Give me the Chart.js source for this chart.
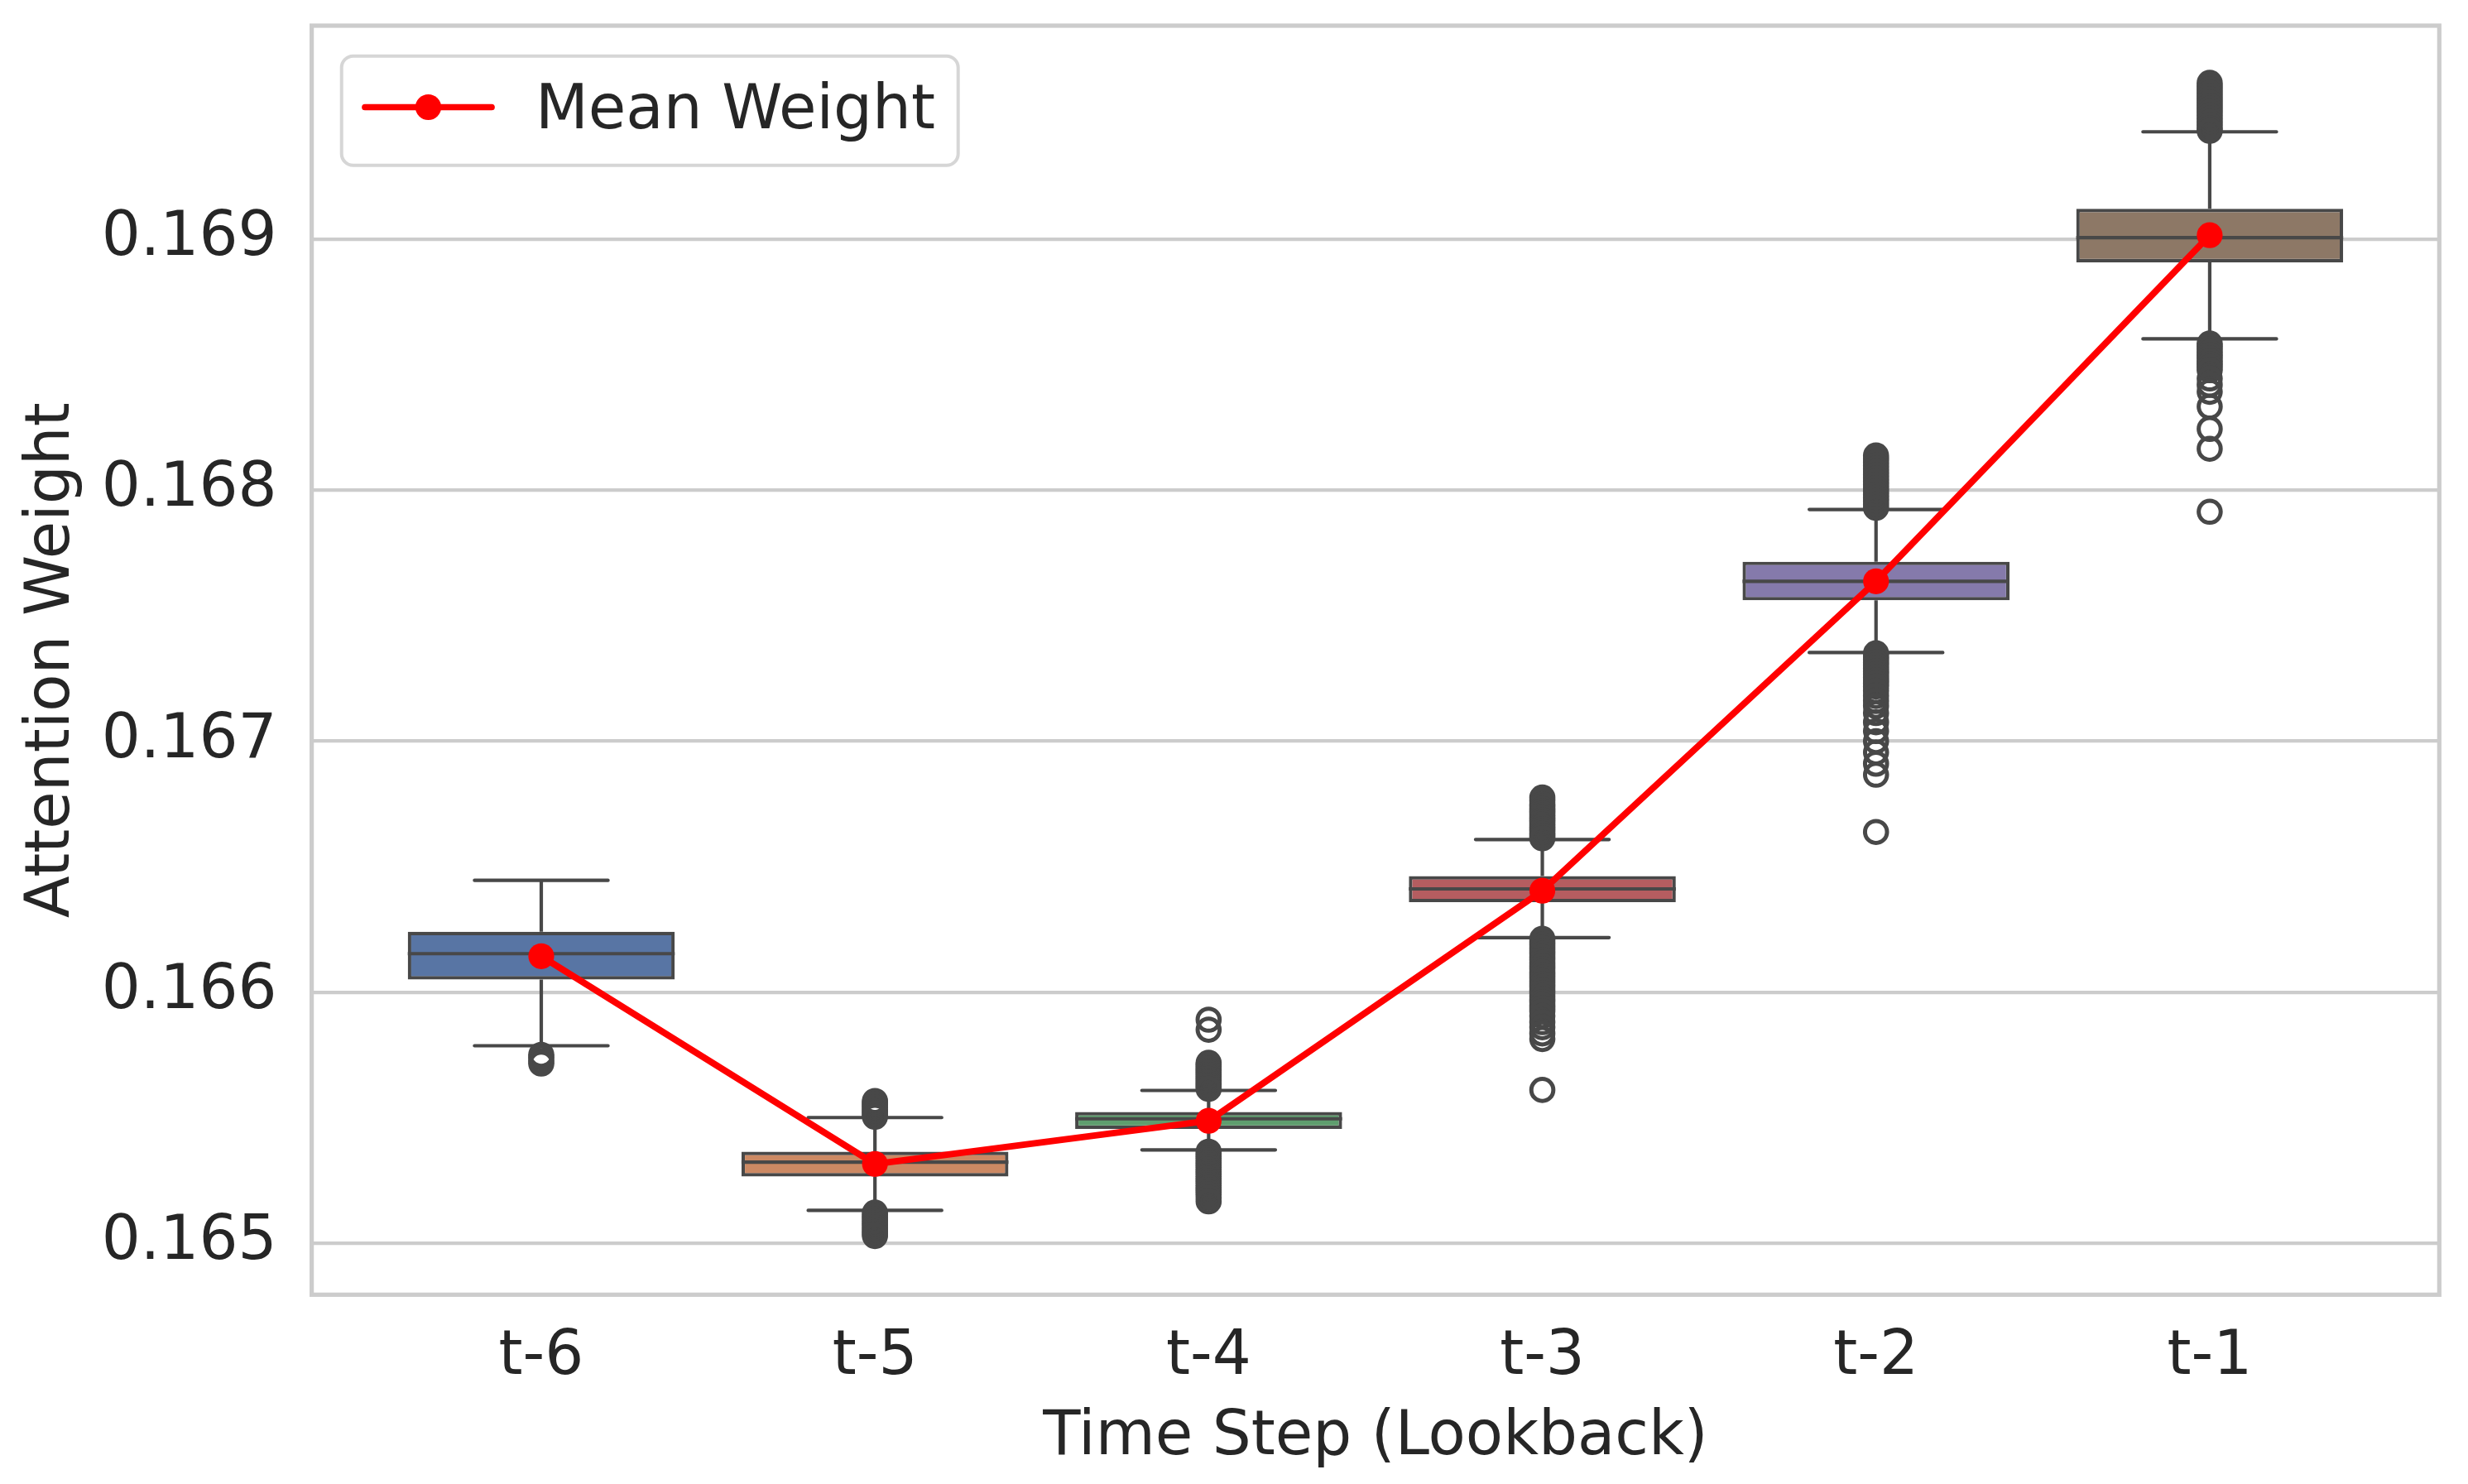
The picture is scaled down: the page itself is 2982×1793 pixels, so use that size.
<!DOCTYPE html>
<html>
<head>
<meta charset="utf-8">
<script src="https://cdn.jsdelivr.net/npm/chart.js@4.4.1/dist/chart.umd.min.js"></script>
<style>
  html, body { margin: 0; padding: 0; background: #ffffff; }
  #wrap { width: 2982px; height: 1793px; }
</style>
</head>
<body>
<div id="wrap"><canvas id="chart" width="2982" height="1793"></canvas></div>
<script>
// --- dane ---
const CATEGORIES = ['t-6', 't-5', 't-4', 't-3', 't-2', 't-1'];
const Q1         = [0.166050, 0.165265, 0.165455, 0.166358, 0.167561, 0.168908];
const MEDIAN     = [0.166153, 0.165322, 0.165495, 0.166411, 0.167637, 0.169006];
const Q3         = [0.166240, 0.165364, 0.165522, 0.166462, 0.167715, 0.169121];
const WHISKER_LO = [0.165786, 0.165130, 0.165371, 0.166217, 0.167353, 0.168603];
const WHISKER_HI = [0.166445, 0.165500, 0.165608, 0.166608, 0.167923, 0.169428];
const MEANS      = [0.166143, 0.165315, 0.165487, 0.166404, 0.167637, 0.169016];

const OUTLIERS = [
  [0.16575, 0.16574, 0.165725, 0.165715],
  [0.165566, 0.16556, 0.165553, 0.165546, 0.16554, 0.165532, 0.165525, 0.165518, 0.16551, 0.165503,
   0.165121, 0.165112, 0.165104, 0.165095, 0.165087, 0.165078, 0.16507, 0.165061, 0.165052, 0.165044, 0.165036, 0.165028],
  [0.16589, 0.16585,
   0.165718, 0.16571, 0.165702, 0.165694, 0.165686, 0.165678, 0.16567, 0.165662, 0.165654, 0.165646, 0.165638, 0.16563, 0.165622, 0.165614,
   0.165364, 0.165355, 0.165346, 0.165337, 0.165328, 0.165319, 0.16531, 0.165301, 0.165292, 0.165283, 0.165274, 0.165265,
   0.165256, 0.165247, 0.165238, 0.165229, 0.16522, 0.165211, 0.165202, 0.165193, 0.16518, 0.165166],
  [0.166775, 0.166762, 0.166748, 0.166739, 0.16673, 0.166721, 0.166712, 0.166703, 0.166694,
   0.166685, 0.166676, 0.166667, 0.166658, 0.166649, 0.16664, 0.166631, 0.166622, 0.166613,
   0.166212, 0.1662, 0.166188, 0.166176, 0.166164, 0.166152, 0.16614, 0.166128, 0.166116, 0.166104,
   0.166092, 0.16608, 0.166068, 0.166056, 0.166044, 0.166032, 0.16602, 0.166008, 0.165996, 0.165984,
   0.165972, 0.16596, 0.165948, 0.165936, 0.165924, 0.165905, 0.16588, 0.16586, 0.165835, 0.165813,
   0.16561],
  [0.168138, 0.168125, 0.168112, 0.168099, 0.168086, 0.168073, 0.16806, 0.168047, 0.168034, 0.168021,
   0.168008, 0.167995, 0.167982, 0.167969, 0.167956, 0.167943, 0.16793,
   0.16735, 0.167338, 0.167326, 0.167314, 0.167302, 0.16729, 0.167278, 0.167266, 0.167254, 0.167242,
   0.16723, 0.167218, 0.1672, 0.16718, 0.16716, 0.16714,
   0.167112, 0.167075, 0.16704, 0.167, 0.166955, 0.16691, 0.166866, 0.166638],
  [0.169623, 0.16961, 0.169597, 0.169584, 0.169571, 0.169558, 0.169545, 0.169532, 0.169519, 0.169506,
   0.169493, 0.16948, 0.169467, 0.169454, 0.169441, 0.169432,
   0.168584, 0.168574, 0.168562, 0.16855, 0.168538, 0.168526, 0.168514, 0.168502, 0.16849, 0.168478,
   0.168445, 0.16842, 0.168392, 0.168333, 0.168244, 0.168165, 0.167914]
];

const Y_TICKS = [0.165, 0.166, 0.167, 0.168, 0.169];
const X_TICKS = [0, 1, 2, 3, 4, 5];

// kolory (seaborn deep, przygaszone)
const BOX_COLORS = ['#5875a4', '#cc8963', '#5f9e6e', '#b55d60', '#857aab', '#8d7866'];
const LINE_GREY = '#484848';
const TEXT_COLOR = '#262626';
const FONT = 'DejaVu Sans';

// --- wąsy, mediany, ramka, legenda ---
const boxPlotExtras = {
  id: 'boxPlotExtras',
  afterDatasetDraw(chart, args) {
    if (args.index !== 2) return;
    const { ctx, scales: { x, y } } = chart;
    ctx.save();
    ctx.strokeStyle = LINE_GREY;
    ctx.lineWidth = 4.2;
    CATEGORIES.forEach((c, i) => {
      const cx = x.getPixelForValue(i);
      ctx.lineCap = 'butt';
      ctx.beginPath();
      ctx.moveTo(cx, y.getPixelForValue(Q3[i]));
      ctx.lineTo(cx, y.getPixelForValue(WHISKER_HI[i]));
      ctx.moveTo(cx, y.getPixelForValue(Q1[i]));
      ctx.lineTo(cx, y.getPixelForValue(WHISKER_LO[i]));
      ctx.stroke();

      ctx.lineCap = 'round';
      ctx.beginPath();
      ctx.moveTo(x.getPixelForValue(i - 0.2), y.getPixelForValue(WHISKER_HI[i]));
      ctx.lineTo(x.getPixelForValue(i + 0.2), y.getPixelForValue(WHISKER_HI[i]));
      ctx.moveTo(x.getPixelForValue(i - 0.2), y.getPixelForValue(WHISKER_LO[i]));
      ctx.lineTo(x.getPixelForValue(i + 0.2), y.getPixelForValue(WHISKER_LO[i]));
      ctx.stroke();

      ctx.lineCap = 'butt';
      ctx.beginPath();
      ctx.moveTo(x.getPixelForValue(i - 0.4), y.getPixelForValue(MEDIAN[i]));
      ctx.lineTo(x.getPixelForValue(i + 0.4), y.getPixelForValue(MEDIAN[i]));
      ctx.stroke();
    });
    ctx.restore();
  }
};

const frameAndLegend = {
  id: 'frameAndLegend',
  beforeDatasetsDraw(chart) {
    const { ctx, chartArea: a } = chart;
    ctx.save();
    ctx.strokeStyle = '#cccccc';
    ctx.lineWidth = 5.2;
    ctx.strokeRect(a.left, a.top, a.right - a.left, a.bottom - a.top);
    ctx.restore();
  },
  afterDraw(chart) {
    const { ctx } = chart;
    ctx.save();
    // ramka legendy
    const bx = 412.7, by = 67.7, bw = 745, bh = 132, r = 14;
    ctx.beginPath();
    ctx.roundRect(bx, by, bw, bh, r);
    ctx.fillStyle = 'rgba(255,255,255,0.8)';
    ctx.fill();
    ctx.strokeStyle = '#d6d6d6';
    ctx.lineWidth = 4;
    ctx.stroke();
    // próbka linii
    ctx.strokeStyle = '#ff0000';
    ctx.lineWidth = 7.7;
    ctx.lineCap = 'round';
    ctx.beginPath();
    ctx.moveTo(441, 129.5);
    ctx.lineTo(594, 129.5);
    ctx.stroke();
    ctx.fillStyle = '#ff0000';
    ctx.beginPath();
    ctx.arc(517.5, 129.5, 15.6, 0, Math.PI * 2);
    ctx.fill();
    // tekst
    ctx.fillStyle = TEXT_COLOR;
    ctx.font = '74px "' + FONT + '"';
    ctx.textBaseline = 'alphabetic';
    ctx.textAlign = 'left';
    ctx.fillText('Mean Weight', 647, 155);
    ctx.restore();
  }
};

Chart.defaults.font.family = FONT;
Chart.defaults.font.size = 74;
Chart.defaults.color = TEXT_COLOR;

const outlierPoints = [];
OUTLIERS.forEach((list, i) => list.forEach(v => outlierPoints.push({ x: i, y: v })));

new Chart(document.getElementById('chart'), {
  type: 'bar',
  data: {
    datasets: [
      {
        type: 'line',
        label: 'Mean Weight',
        data: MEANS.map((v, i) => ({ x: i, y: v })),
        borderColor: '#ff0000',
        borderWidth: 7.9,
        borderJoinStyle: 'round',
        borderCapStyle: 'round',
        pointRadius: 15.6,
        pointBackgroundColor: '#ff0000',
        pointBorderWidth: 0,
        tension: 0,
        fill: false,
        order: 1
      },
      {
        type: 'scatter',
        label: 'outliers',
        data: outlierPoints,
        pointRadius: 13.3,
        pointBorderWidth: 5,
        pointBorderColor: LINE_GREY,
        pointBackgroundColor: 'rgba(0,0,0,0)',
        showLine: false,
        order: 2
      },
      {
        type: 'bar',
        label: 'boxes',
        data: CATEGORIES.map((c, i) => ({ x: i, y: [Q1[i], Q3[i]] })),
        backgroundColor: BOX_COLORS,
        borderColor: LINE_GREY,
        borderWidth: 4.2,
        borderSkipped: false,
        categoryPercentage: 1.0,
        barPercentage: 0.8,
        order: 3
      }
    ]
  },
  options: {
    responsive: false,
    animation: false,
    events: [],
    layout: { padding: { left: 0, top: 31, right: 34.7, bottom: 0 } },
    plugins: {
      legend: { display: false },
      tooltip: { enabled: false }
    },
    scales: {
      x: {
        type: 'linear',
        min: -0.688,
        max: 5.688,
        offset: false,
        grid: { display: false, drawTicks: false },
        border: { display: false },
        afterBuildTicks: s => { s.ticks = X_TICKS.map(v => ({ value: v })); },
        afterFit: s => { s.height = 228.7; s.paddingLeft = 0; s.paddingRight = 0; },
        ticks: {
          padding: 31.7,
          autoSkip: false,
          maxRotation: 0,
          callback: v => CATEGORIES[v]
        },
        title: {
          display: true,
          text: 'Time Step (Lookback)',
          padding: { top: 0, bottom: 11.2 }
        }
      },
      y: {
        type: 'linear',
        min: 0.164794,
        max: 0.169851,
        beginAtZero: false,
        grid: { color: '#cccccc', lineWidth: 4.2, drawTicks: false },
        border: { display: false },
        afterBuildTicks: s => { s.ticks = Y_TICKS.map(v => ({ value: v })); },
        afterFit: s => { s.width = 376.6; s.paddingTop = 0; s.paddingBottom = 0; },
        ticks: {
          padding: 42,
          callback: v => v.toFixed(3)
        },
        title: {
          display: true,
          text: 'Attention Weight',
          padding: { top: 19, bottom: 0 }
        }
      }
    }
  },
  plugins: [boxPlotExtras, frameAndLegend]
});
</script>
</body>
</html>
